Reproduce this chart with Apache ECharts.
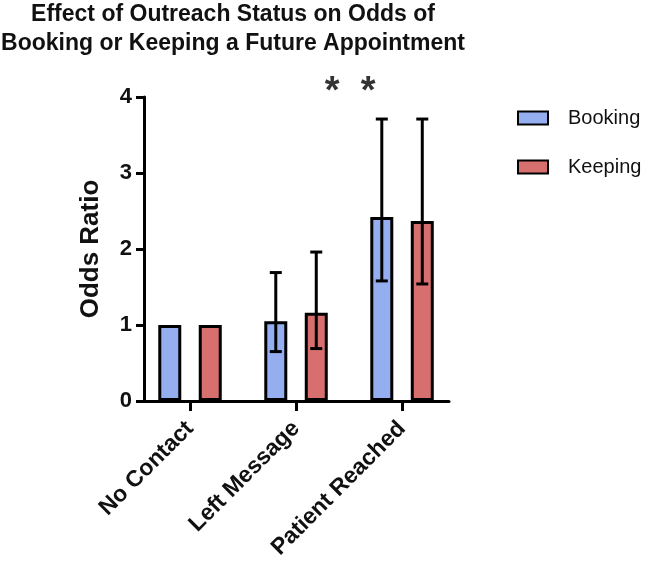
<!DOCTYPE html>
<html><head><meta charset="utf-8">
<script src="https://cdn.jsdelivr.net/npm/echarts@6/dist/echarts.min.js"></script>
<style>html,body{margin:0;padding:0;background:#fff}#c{width:664px;height:566px}</style>
</head><body><div id="c"></div>
<script>
const categories = ['No Contact', 'Left Message', 'Patient Reached'];
const seriesNames = ['Booking', 'Keeping'];
const bookingOR = [1.00, 1.05, 2.42];
const keepingOR = [1.00, 1.16, 2.37];
const bookingLow = [null, 0.65, 1.58];
const bookingHigh = [null, 1.69, 3.71];
const keepingLow = [null, 0.69, 1.54];
const keepingHigh = [null, 1.96, 3.71];
const yTicks = [0, 1, 2, 3, 4];
const sigMarks = [[1.34, 4.06], [1.68, 4.06]];

const FONT = 'Liberation Sans, Arial, sans-serif';
const BAR_W = 23, BAR_GAP = 0.76;
const OFFSET = (BAR_W * (1 + BAR_GAP)) / 2;

function errData(low, high, sIdx) {
  const out = [];
  categories.forEach((c, i) => { if (low[i] != null) out.push([i, low[i], high[i], sIdx]); });
  return out;
}

const chart = echarts.init(document.getElementById('c'), null, {renderer: 'canvas'});
chart.setOption({
  animation: false,
  backgroundColor: '#fff',
  title: {
    text: 'Effect of Outreach Status on Odds of\nBooking or Keeping a Future Appointment',
    left: 233, top: 0, textAlign: 'center', padding: 0,
    textStyle: {fontFamily: FONT, fontWeight: 'bold', fontSize: 23, lineHeight: 29, color: '#111'}
  },
  legend: {
    orient: 'vertical', left: 517, top: 108, itemWidth: 30, itemHeight: 13, itemGap: 29,
    icon: 'rect', data: seriesNames, padding: 0,
    textStyle: {fontFamily: FONT, fontSize: 20, lineHeight: 20, color: '#111', padding: [0, 0, 0, 15]}
  },
  grid: {left: 144, right: 215, top: 97, bottom: 165, containLabel: false},
  xAxis: {
    type: 'value', min: -0.434, max: 2.443,
    axisLine: {show: true, onZero: false, lineStyle: {color: '#000', width: 3}},
    axisTick: {show: true, customValues: [0, 1, 2], length: 10, lineStyle: {color: '#000', width: 3}},
    axisLabel: {
      customValues: [0, 1, 2], rotate: 45, margin: 24,
      formatter: v => categories[Math.round(v)],
      fontFamily: FONT, fontWeight: 'bold', fontSize: 23, color: '#111'
    },
    splitLine: {show: false}
  },
  yAxis: {
    type: 'value', min: yTicks[0], max: yTicks[yTicks.length - 1], interval: 1,
    name: 'Odds Ratio', nameLocation: 'middle', nameGap: 40,
    nameTextStyle: {fontFamily: FONT, fontWeight: 'bold', fontSize: 26, color: '#111'},
    axisLine: {show: true, onZero: false, lineStyle: {color: '#000', width: 3}},
    axisTick: {show: true, length: 8, lineStyle: {color: '#000', width: 3}},
    axisLabel: {margin: 12, fontFamily: FONT, fontWeight: 'bold', fontSize: 22, color: '#111'},
    splitLine: {show: false}
  },
  series: [
    {
      name: 'Booking', type: 'bar', barWidth: BAR_W, barGap: (BAR_GAP * 100) + '%',
      data: bookingOR.map((v, i) => [i, v]),
      itemStyle: {color: '#94aef0', borderColor: '#000', borderWidth: 3}
    },
    {
      name: 'Keeping', type: 'bar', barWidth: BAR_W, barGap: (BAR_GAP * 100) + '%',
      data: keepingOR.map((v, i) => [i, v]),
      itemStyle: {color: '#d86f6f', borderColor: '#000', borderWidth: 3}
    },
    {
      type: 'custom', z: 10, silent: true,
      data: errData(bookingLow, bookingHigh, 0).concat(errData(keepingLow, keepingHigh, 1)),
      renderItem: function (params, api) {
        const off = api.value(3) === 0 ? -OFFSET : OFFSET;
        const lo = api.coord([api.value(0), api.value(1)]);
        const hi = api.coord([api.value(0), api.value(2)]);
        const x = lo[0] + off, cw = 6;
        const st = {stroke: '#000', lineWidth: 3};
        return {type: 'group', children: [
          {type: 'line', shape: {x1: x, y1: lo[1], x2: x, y2: hi[1]}, style: st},
          {type: 'line', shape: {x1: x - cw, y1: hi[1], x2: x + cw, y2: hi[1]}, style: st},
          {type: 'line', shape: {x1: x - cw, y1: lo[1], x2: x + cw, y2: lo[1]}, style: st}
        ]};
      }
    },
    {
      type: 'scatter', clip: false, symbolSize: 0, silent: true, z: 11,
      data: sigMarks,
      label: {show: true, position: 'inside', formatter: '*', fontFamily: FONT, fontWeight: 'bold', fontSize: 38, color: '#000'}
    }
  ]
});
</script></body></html>
